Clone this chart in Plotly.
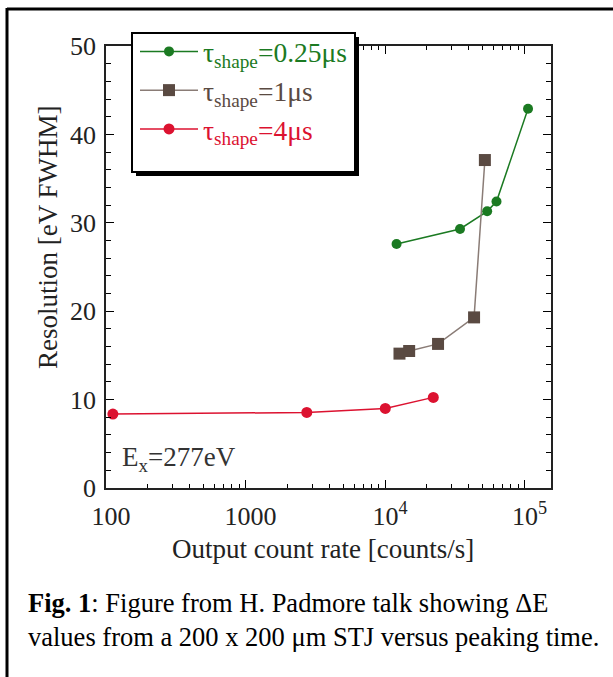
import plotly.graph_objects as go

# Data
green_x = [12100, 34500, 54000, 63000, 106000]
green_y = [27.6, 29.3, 31.3, 32.4, 42.9]
brown_x = [12700, 14900, 24000, 43500, 52000]
brown_y = [15.2, 15.5, 16.3, 19.3, 37.1]
red_x = [112, 2750, 10050, 22200]
red_y = [8.36, 8.55, 9.0, 10.25]

x_tickvals = [100, 1000, 10000, 100000]
x_ticktext = ["100", "1000", "10<sup>4</sup>", "10<sup>5</sup>"]

GREEN = "#1b7a22"
BROWN = "#5a4a42"
BROWN_LINE = "#8a7c76"
RED = "#dc1230"
FONT = "Liberation Serif"

fig = go.Figure()
fig.add_trace(go.Scatter(
    x=green_x, y=green_y, mode="lines+markers", legendgroup="g",
    name=f"<span style='color:{GREEN}'>τ<sub>shape</sub>=0.25μs</span>",
    line=dict(color=GREEN, width=1.5),
    marker=dict(symbol="circle", size=10, color=GREEN)))
fig.add_trace(go.Scatter(
    x=brown_x, y=brown_y, mode="lines+markers", legendgroup="b",
    name=f"<span style='color:{BROWN}'>τ<sub>shape</sub>=1μs</span>",
    line=dict(color=BROWN_LINE, width=1.5),
    marker=dict(symbol="square", size=12, color=BROWN)))
fig.add_trace(go.Scatter(
    x=red_x, y=red_y, mode="lines+markers", legendgroup="r",
    name=f"<span style='color:{RED}'>τ<sub>shape</sub>=4μs</span>",
    line=dict(color=RED, width=1.5),
    marker=dict(symbol="circle", size=11, color=RED)))

W, H = 613, 677
L, R, T, B = 106, 62, 46, 189
pw, ph = W - L - R, H - T - B

def px(X):
    return (X - L) / pw

def py(Y):
    return (H - B - Y) / ph

shapes = [
    # outer frame (top and left edges)
    dict(type="line", xref="paper", yref="paper", x0=px(7), x1=px(615), y0=py(9), y1=py(9),
         line=dict(color="black", width=3)),
    dict(type="line", xref="paper", yref="paper", x0=px(7), x1=px(7), y0=py(8), y1=py(680),
         line=dict(color="black", width=3)),
    # legend shadow and box
    dict(type="rect", xref="paper", yref="paper", x0=px(136), x1=px(359), y0=py(37), y1=py(176),
         fillcolor="black", line=dict(width=0), layer="above"),
    dict(type="rect", xref="paper", yref="paper", x0=px(132), x1=px(355), y0=py(33), y1=py(172),
         fillcolor="white", line=dict(color="black", width=2), layer="above"),
]

tick_font = dict(family=FONT, size=26, color="#222")
title_font = dict(family=FONT, size=27, color="#222")

fig.update_layout(
    width=W, height=H,
    margin=dict(l=L, r=R, t=T, b=B, pad=0),
    paper_bgcolor="white", plot_bgcolor="white",
    font=dict(family=FONT, color="#222"),
    showlegend=True,
    legend=dict(x=px(135), y=py(27), xanchor="left", yanchor="top",
                bgcolor="rgba(0,0,0,0)", borderwidth=0,
                font=dict(family=FONT, size=27.5), itemwidth=58,
                tracegroupgap=2, traceorder="normal"),
    shapes=shapes,
    xaxis=dict(type="log", range=[2, 5.19], tickvals=x_tickvals, ticktext=x_ticktext,
               ticks="inside", ticklen=8, tickwidth=1.2, tickcolor="black",
               showline=True, linecolor="#222", linewidth=1.5, mirror="allticks",
               showgrid=False, zeroline=False, tickfont=tick_font, ticklabelstandoff=4,
               ticklabelshift=5,
               minor=dict(ticks="inside", ticklen=4, tickwidth=1, tickcolor="black",
                          dtick="D1", showgrid=False)),
    yaxis=dict(range=[0, 50], dtick=10, ticks="inside", ticklen=8, tickwidth=1.2,
               tickcolor="black", showline=True, linecolor="#222", linewidth=1.5,
               mirror="allticks", showgrid=False, zeroline=False, tickfont=tick_font,
               ticklabelstandoff=3,
               minor=dict(ticks="inside", ticklen=5, tickwidth=1, tickcolor="black",
                          dtick=2, showgrid=False)),
    annotations=[
        dict(text="Resolution [eV FWHM]", xref="paper", yref="paper", x=px(48), y=py(237),
             xanchor="center", yanchor="middle", textangle=-90, showarrow=False,
             font=title_font),
        dict(text="Output count rate [counts/s]", xref="paper", yref="paper", x=px(323),
             y=py(549), xanchor="center", yanchor="middle", showarrow=False,
             font=title_font),
        dict(text="E<sub>x</sub>=277eV", xref="paper", yref="y", x=px(120), y=3.3,
             xanchor="left", yanchor="middle", showarrow=False,
             font=dict(family=FONT, size=27, color="#333")),
        dict(text="<b>Fig. 1</b>: Figure from H. Padmore talk showing ΔE<br>"
                  "values from a 200 x 200 μm STJ versus peaking time.",
             xref="paper", yref="paper", x=px(26), y=py(586), xanchor="left", yanchor="top",
             align="left", showarrow=False,
             font=dict(family=FONT, size=26.5, color="black")),
    ],
)

fig.write_html("out.html")
